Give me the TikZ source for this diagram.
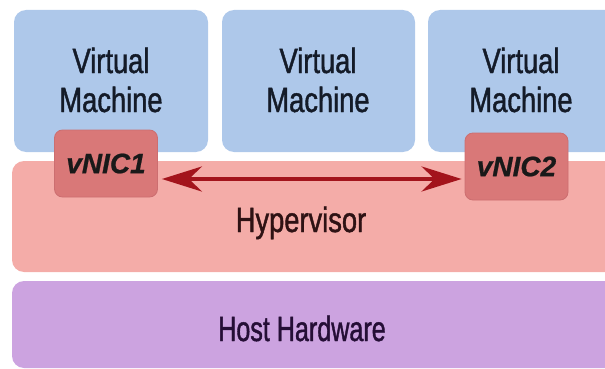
\documentclass[tikz,border=0pt]{standalone}
\usepackage{fontspec}
\setmainfont[FakeStretch=0.78,FakeBold=1.2]{Liberation Sans}
\newfontfamily\nicfont[FakeBold=0.8]{Liberation Sans}
\usetikzlibrary{arrows.meta}
\definecolor{vmblue}{HTML}{AEC8EA}
\definecolor{hyppink}{HTML}{F4ACA8}
\definecolor{hostpurple}{HTML}{CCA3E0}
\definecolor{nicfill}{HTML}{D97878}
\definecolor{nicdraw}{HTML}{CC6E70}
\definecolor{arrred}{HTML}{A3141C}
\definecolor{vmtext}{HTML}{141B28}
\definecolor{hyptext}{HTML}{2E1214}
\definecolor{hosttext}{HTML}{250E36}
\tikzset{
  layerbox/.style={rounded corners=12pt, draw=none},
  vmbox/.style={layerbox, fill=vmblue},
  vmlabel/.style={align=center, text=vmtext, font=\fontsize{35}{39}\selectfont, inner sep=0pt},
  nicbox/.style={rounded corners=8pt, fill=nicfill, draw=nicdraw, line width=0.8pt,
     minimum width=103pt, minimum height=67pt, inner sep=0pt,
     font=\nicfont\bfseries\itshape\fontsize{28}{30}\selectfont, text=black!90},
  arr/.style={draw=arrred, line width=4pt, {Stealth[length=40pt,width=25pt,inset=13pt]}-{Stealth[length=40pt,width=25pt,inset=13pt]}},
}
\begin{document}
\begin{tikzpicture}[x=1pt,y=-1pt]
\useasboundingbox (0,0) rectangle (605,369);
\begin{scope}
\clip (0,0) rectangle (605,369);
% virtual machines
\path[vmbox] (14,10) rectangle (208,152);
\path[vmbox] (222,10) rectangle (415,152);
\path[vmbox] (428,10) rectangle (625,152);
\node[vmlabel, anchor=base] (vm1) at (111,112) {Virtual\\Machine};
\node[vmlabel, anchor=base] (vm2) at (318,112) {Virtual\\Machine};
\node[vmlabel, anchor=base] (vm3) at (521,112) {Virtual\\Machine};
% hypervisor
\path[layerbox, fill=hyppink] (12,161) rectangle (625,272);
\node[text=hyptext, font=\fontsize{35}{39}\selectfont, inner sep=0pt, anchor=base] (hyp) at (301,232) {Hypervisor};
% host hardware
\path[layerbox, fill=hostpurple] (12,281) rectangle (625,368);
\node[text=hosttext, font=\fontsize{35}{39}\selectfont, inner sep=0pt, anchor=base] (host) at (302,341) {\scalebox{0.92}[1]{Host Hardware}};
% vNICs
\node[nicbox] (n1) at (106,163.5) {vNIC1};
\node[nicbox] (n2) at (516.5,166.5) {vNIC2};
\coordinate (a1) at ([xshift=4pt,yshift=-15.5pt]n1.east);
\draw[arr] (a1) -- ([xshift=-3pt]a1 -| n2.west);
\end{scope}
\end{tikzpicture}
\end{document}
